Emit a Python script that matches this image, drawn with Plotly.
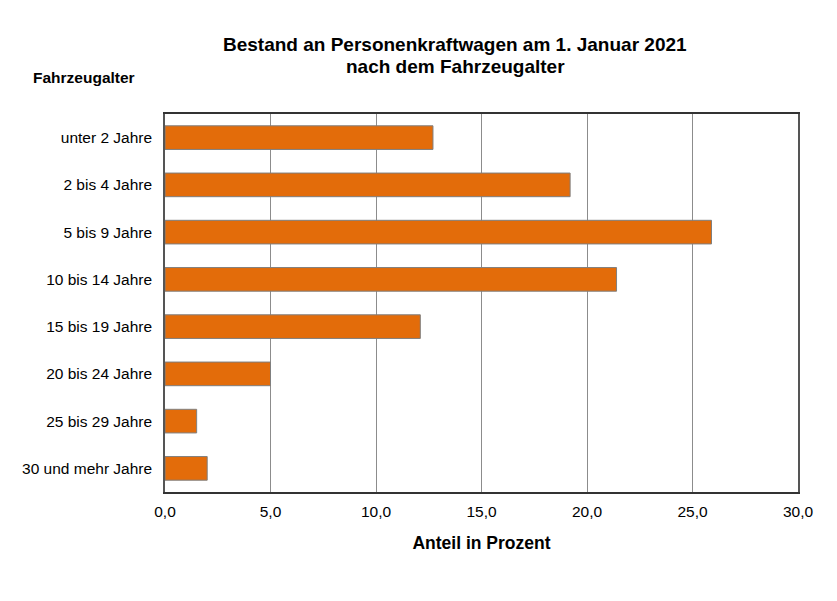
import plotly.graph_objects as go

categories = ["unter 2 Jahre", "2 bis 4 Jahre", "5 bis 9 Jahre", "10 bis 14 Jahre",
              "15 bis 19 Jahre", "20 bis 24 Jahre", "25 bis 29 Jahre", "30 und mehr Jahre"]
values = [12.7, 19.2, 25.9, 21.4, 12.1, 5.0, 1.5, 2.0]
x_tickvals = [0, 5, 10, 15, 20, 25, 30]
x_ticktext = ["0,0", "5,0", "10,0", "15,0", "20,0", "25,0", "30,0"]
title_lines = ["Bestand an Personenkraftwagen am 1. Januar 2021", "nach dem Fahrzeugalter"]

FONT = "Liberation Sans, Arial, sans-serif"

W, H = 837, 601
ML, MR, MT, MB = 157, 47, 106, 117
plot_w = W - ML - MR
plot_h = H - MT - MB

fig = go.Figure(go.Bar(
    y=categories, x=values, orientation="h", width=0.5,
    marker=dict(color="#E36C0A", line=dict(color="#7f7f7f", width=1)),
))

fig.update_layout(
    width=W, height=H,
    margin=dict(l=ML, r=MR, t=MT, b=MB),
    paper_bgcolor="white", plot_bgcolor="white",
    font=dict(family=FONT, size=15.5, color="black"),
    showlegend=False,
    xaxis=dict(range=[0, 30], tickvals=x_tickvals, ticktext=x_ticktext,
               showgrid=True, gridcolor="#8c8c8c", gridwidth=1,
               showline=True, linecolor="#333333", linewidth=1.5, mirror=True,
               ticks="", zeroline=False, ticklabelstandoff=5,
               title=dict(text="<b>Anteil in Prozent</b>", font=dict(size=17.5), standoff=17)),
    yaxis=dict(categoryorder="array", categoryarray=categories[::-1],
               showgrid=False, showline=True, linecolor="#555555", linewidth=1.5, mirror=True,
               ticks="", ticklabelstandoff=8),
)

for line, ypx in zip(title_lines, [36, 58]):
    fig.add_annotation(text="<b>%s</b>" % line, xref="paper", yref="paper",
                       x=(447 - ML) / plot_w, xanchor="center",
                       y=(H - MB - ypx) / plot_h, yanchor="middle",
                       showarrow=False, font=dict(size=19))

fig.add_annotation(text="<b>Fahrzeugalter</b>", xref="paper", yref="paper",
                   x=(23 - ML) / plot_w, xanchor="left",
                   y=(H - MB - 70) / plot_h, yanchor="middle",
                   showarrow=False, font=dict(size=15.5))

fig.write_html("out.html")
